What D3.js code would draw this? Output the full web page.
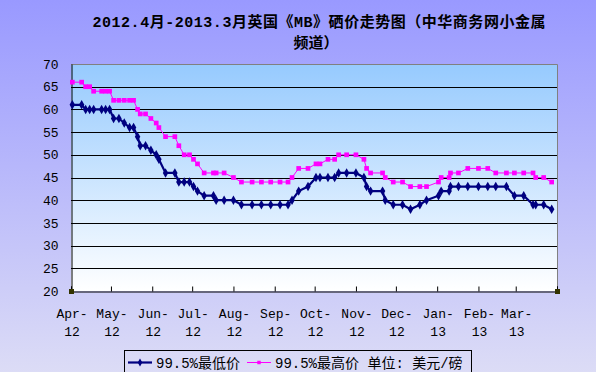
<!DOCTYPE html>
<html lang="zh">
<head>
    <meta charset="UTF-8">
    <title>2012.4月-2013.3月英国《MB》硒价走势图</title>
    <script src="https://d3js.org/d3.v7.min.js"></script>
    <style>
        body { margin: 0; padding: 0; overflow: hidden; }
        svg { display: block; }
    </style>
</head>
<body>
<div id="chart"></div>

<script>
    // price dates (MB quotes)
    const dates = [
        "2012-04-02", "2012-04-09", "2012-04-12", "2012-04-15", "2012-04-18", "2012-04-24", "2012-04-27", "2012-04-30",
        "2012-05-03", "2012-05-07", "2012-05-11", "2012-05-15", "2012-05-18", "2012-05-21", "2012-05-23", "2012-05-27",
        "2012-05-31", "2012-06-04", "2012-06-06", "2012-06-11", "2012-06-18", "2012-06-21", "2012-06-25", "2012-06-29",
        "2012-07-02", "2012-07-05", "2012-07-10", "2012-07-17", "2012-07-19", "2012-07-25", "2012-08-01", "2012-08-07",
        "2012-08-15", "2012-08-22", "2012-08-29", "2012-09-05", "2012-09-11", "2012-09-14", "2012-09-19", "2012-09-26",
        "2012-10-02", "2012-10-05", "2012-10-11", "2012-10-16", "2012-10-19", "2012-10-25", "2012-11-01", "2012-11-07",
        "2012-11-09", "2012-11-12", "2012-11-21", "2012-11-23", "2012-11-29", "2012-12-06", "2012-12-12", "2012-12-19",
        "2012-12-24", "2013-01-02", "2013-01-04", "2013-01-10", "2013-01-11", "2013-01-17", "2013-01-24", "2013-02-01",
        "2013-02-08", "2013-02-14", "2013-02-22", "2013-02-28", "2013-03-07", "2013-03-14", "2013-03-16", "2013-03-22",
        "2013-03-28"
    ];

    // 99.5% lowest price
    const lowPrices = [
        61, 61, 60, 60, 60, 60, 60, 60,
        58, 58, 57, 56, 56, 54, 52, 52,
        51, 50, 49, 46, 46, 44, 44, 44,
        43, 42, 41, 41, 40, 40, 40, 39,
        39, 39, 39, 39, 39, 40, 42, 43,
        45, 45, 45, 45, 46, 46, 46, 45,
        43, 42, 42, 40, 39, 39, 38, 39,
        40, 41, 42, 42, 43, 43, 43, 43,
        43, 43, 43, 41, 41, 39, 39, 39,
        38
    ];

    // 99.5% highest price
    const highPrices = [
        66, 66, 65, 65, 64, 64, 64, 64,
        62, 62, 62, 62, 62, 60, 59, 59,
        58, 57, 56, 54, 54, 52, 50, 50,
        49, 48, 46, 46, 46, 46, 45, 44,
        44, 44, 44, 44, 44, 45, 47, 47,
        48, 48, 49, 49, 50, 50, 50, 49,
        47, 46, 46, 45, 44, 44, 43, 43,
        43, 44, 45, 45, 46, 46, 47, 47,
        47, 46, 46, 46, 46, 46, 45, 45,
        44
    ];

    const yTicks = [20, 25, 30, 35, 40, 45, 50, 55, 60, 65, 70];
    const monthNames = ["Apr-", "May-", "Jun-", "Jul-", "Aug-", "Sep-", "Oct-", "Nov-", "Dec-", "Jan-", "Feb-", "Mar-"];
    const yearLabels = ["12", "12", "12", "12", "12", "12", "12", "12", "12", "13", "13", "13"];
    const seriesNames = ["99.5%最低价", "99.5%最高价 单位: 美元/磅"];

    const width = 596;
    const height = 372;
    const plot = {left: 71, right: 557, top: 64, bottom: 291};

    const parseDate = d3.timeParse("%Y-%m-%d");
    const lowData = dates.map((d, i) => ({date: parseDate(d), value: lowPrices[i]}));
    const highData = dates.map((d, i) => ({date: parseDate(d), value: highPrices[i]}));

    const svg = d3.select("#chart")
        .append("svg")
        .attr("width", width)
        .attr("height", height);

    const defs = svg.append("defs");

    const bgGrad = defs.append("linearGradient")
        .attr("id", "bgGrad")
        .attr("x1", 0).attr("y1", 0).attr("x2", 0).attr("y2", 1);
    bgGrad.append("stop").attr("offset", "0%").attr("stop-color", "#9999FF");
    bgGrad.append("stop").attr("offset", "100%").attr("stop-color", "#DCDCF6");

    const plotGrad = defs.append("linearGradient")
        .attr("id", "plotGrad")
        .attr("x1", 0).attr("y1", 0).attr("x2", 0).attr("y2", 1);
    plotGrad.append("stop").attr("offset", "0%").attr("stop-color", "#96CAFE");
    plotGrad.append("stop").attr("offset", "100%").attr("stop-color", "#FFFFFF");

    // background
    svg.append("rect")
        .attr("width", width)
        .attr("height", height)
        .attr("fill", "url(#bgGrad)");

    // title
    const title = svg.append("g")
        .attr("font-family", "'Liberation Mono', 'Noto Sans CJK SC', monospace")
        .attr("font-weight", "bold")
        .attr("font-size", 15)
        .attr("fill", "#000");
    title.append("text")
        .attr("x", 319)
        .attr("y", 27)
        .attr("text-anchor", "middle")
        .attr("textLength", 453)
        .attr("lengthAdjust", "spacing")
        .text("2012.4月-2013.3月英国《MB》硒价走势图（中华商务网小金属");
    title.append("text")
        .attr("x", 316)
        .attr("y", 48)
        .attr("text-anchor", "middle")
        .text("频道）");

    const x = d3.scaleTime()
        .domain([new Date(2012, 3, 1), new Date(2013, 3, 1)])
        .range([plot.left, plot.right]);

    const y = d3.scaleLinear()
        .domain([20, 70])
        .range([plot.bottom, plot.top]);

    // plot area
    svg.append("rect")
        .attr("x", plot.left)
        .attr("y", plot.top)
        .attr("width", plot.right - plot.left)
        .attr("height", plot.bottom - plot.top)
        .attr("fill", "url(#plotGrad)");

    // gridlines
    svg.append("g")
        .selectAll("line")
        .data(yTicks.filter(t => t > 20 && t < 70))
        .enter().append("line")
        .attr("x1", plot.left)
        .attr("x2", plot.right)
        .attr("y1", d => Math.round(y(d)) + 0.5)
        .attr("y2", d => Math.round(y(d)) + 0.5)
        .attr("stroke", "#000")
        .attr("stroke-width", 1);

    // border top / right
    svg.append("path")
        .attr("d", `M${plot.left},${plot.top + 0.5}H${plot.right + 0.5}V${plot.bottom}`)
        .attr("fill", "none")
        .attr("stroke", "#808080")
        .attr("stroke-width", 1);

    // y axis
    const yAxis = svg.append("g")
        .attr("transform", `translate(${plot.left + 0.5},0)`)
        .call(d3.axisLeft(y).tickValues(yTicks).tickSize(0).tickPadding(13));
    yAxis.select(".domain").attr("stroke", "#000");
    yAxis.selectAll("text")
        .attr("font-family", "'Liberation Mono', monospace")
        .attr("font-size", 13)
        .attr("fill", "#000");

    // x axis
    const monthTicks = d3.timeMonth.range(new Date(2012, 3, 1), new Date(2013, 3, 2));
    const xAxis = svg.append("g")
        .attr("transform", `translate(0,${plot.bottom + 0.5})`)
        .call(d3.axisTop(x).tickValues(monthTicks).tickSize(5).tickFormat(""));
    xAxis.select(".domain").attr("stroke", "#000");
    xAxis.selectAll(".tick line").attr("stroke", "#000");

    const xLabels = svg.append("g")
        .attr("font-family", "'Liberation Mono', monospace")
        .attr("font-size", 13)
        .attr("fill", "#000")
        .attr("text-anchor", "middle");
    monthNames.forEach((m, i) => {
        const t = xLabels.append("text")
            .attr("x", x(monthTicks[i]) + 1)
            .attr("y", 318);
        t.text(m);
        xLabels.append("text")
            .attr("x", x(monthTicks[i]) + 1)
            .attr("y", 336)
            .text(yearLabels[i]);
    });

    // handles at axis ends
    svg.append("g")
        .selectAll("rect")
        .data([plot.left, plot.right])
        .enter().append("rect")
        .attr("x", d => d - 2)
        .attr("y", plot.bottom - 2)
        .attr("width", 5)
        .attr("height", 5)
        .attr("fill", "#333300");

    const line = d3.line()
        .x(d => x(d.date))
        .y(d => y(d.value));

    // high series
    svg.append("path")
        .datum(highData)
        .attr("d", line)
        .attr("fill", "none")
        .attr("stroke", "#FF00FF")
        .attr("stroke-width", 1);
    svg.append("g")
        .selectAll("path")
        .data(highData)
        .enter().append("path")
        .attr("d", d3.symbol().type(d3.symbolSquare).size(22))
        .attr("transform", d => `translate(${x(d.date)},${y(d.value)})`)
        .attr("fill", "#FF00FF");

    // low series
    svg.append("path")
        .datum(lowData)
        .attr("d", line)
        .attr("fill", "none")
        .attr("stroke", "#000080")
        .attr("stroke-width", 2.2);
    svg.append("g")
        .selectAll("path")
        .data(lowData)
        .enter().append("path")
        .attr("d", d3.symbol().type(d3.symbolDiamond).size(26))
        .attr("transform", d => `translate(${x(d.date)},${y(d.value)})`)
        .attr("fill", "#000080");

    // legend
    const legend = svg.append("g");
    legend.append("rect")
        .attr("x", 124.5)
        .attr("y", 350.5)
        .attr("width", 347)
        .attr("height", 26)
        .attr("fill", "none")
        .attr("stroke", "#000");

    const legendItems = [
        {x: 128, color: "#000080", width: 2.2, symbol: d3.symbolDiamond, size: 18, label: seriesNames[0]},
        {x: 247, color: "#FF00FF", width: 1, symbol: d3.symbolSquare, size: 12, label: seriesNames[1]}
    ];
    legendItems.forEach(item => {
        legend.append("line")
            .attr("x1", item.x)
            .attr("x2", item.x + 24)
            .attr("y1", 362.5)
            .attr("y2", 362.5)
            .attr("stroke", item.color)
            .attr("stroke-width", item.width);
        legend.append("path")
            .attr("d", d3.symbol().type(item.symbol).size(item.size))
            .attr("transform", `translate(${item.x + 12},362.5)`)
            .attr("fill", item.color);
        legend.append("text")
            .attr("x", item.x + 28)
            .attr("y", 368)
            .attr("font-family", "'Liberation Mono', 'Noto Sans CJK SC', monospace")
            .attr("font-size", 14)
            .attr("fill", "#000")
            .text(item.label);
    });
</script>
</body>
</html>
